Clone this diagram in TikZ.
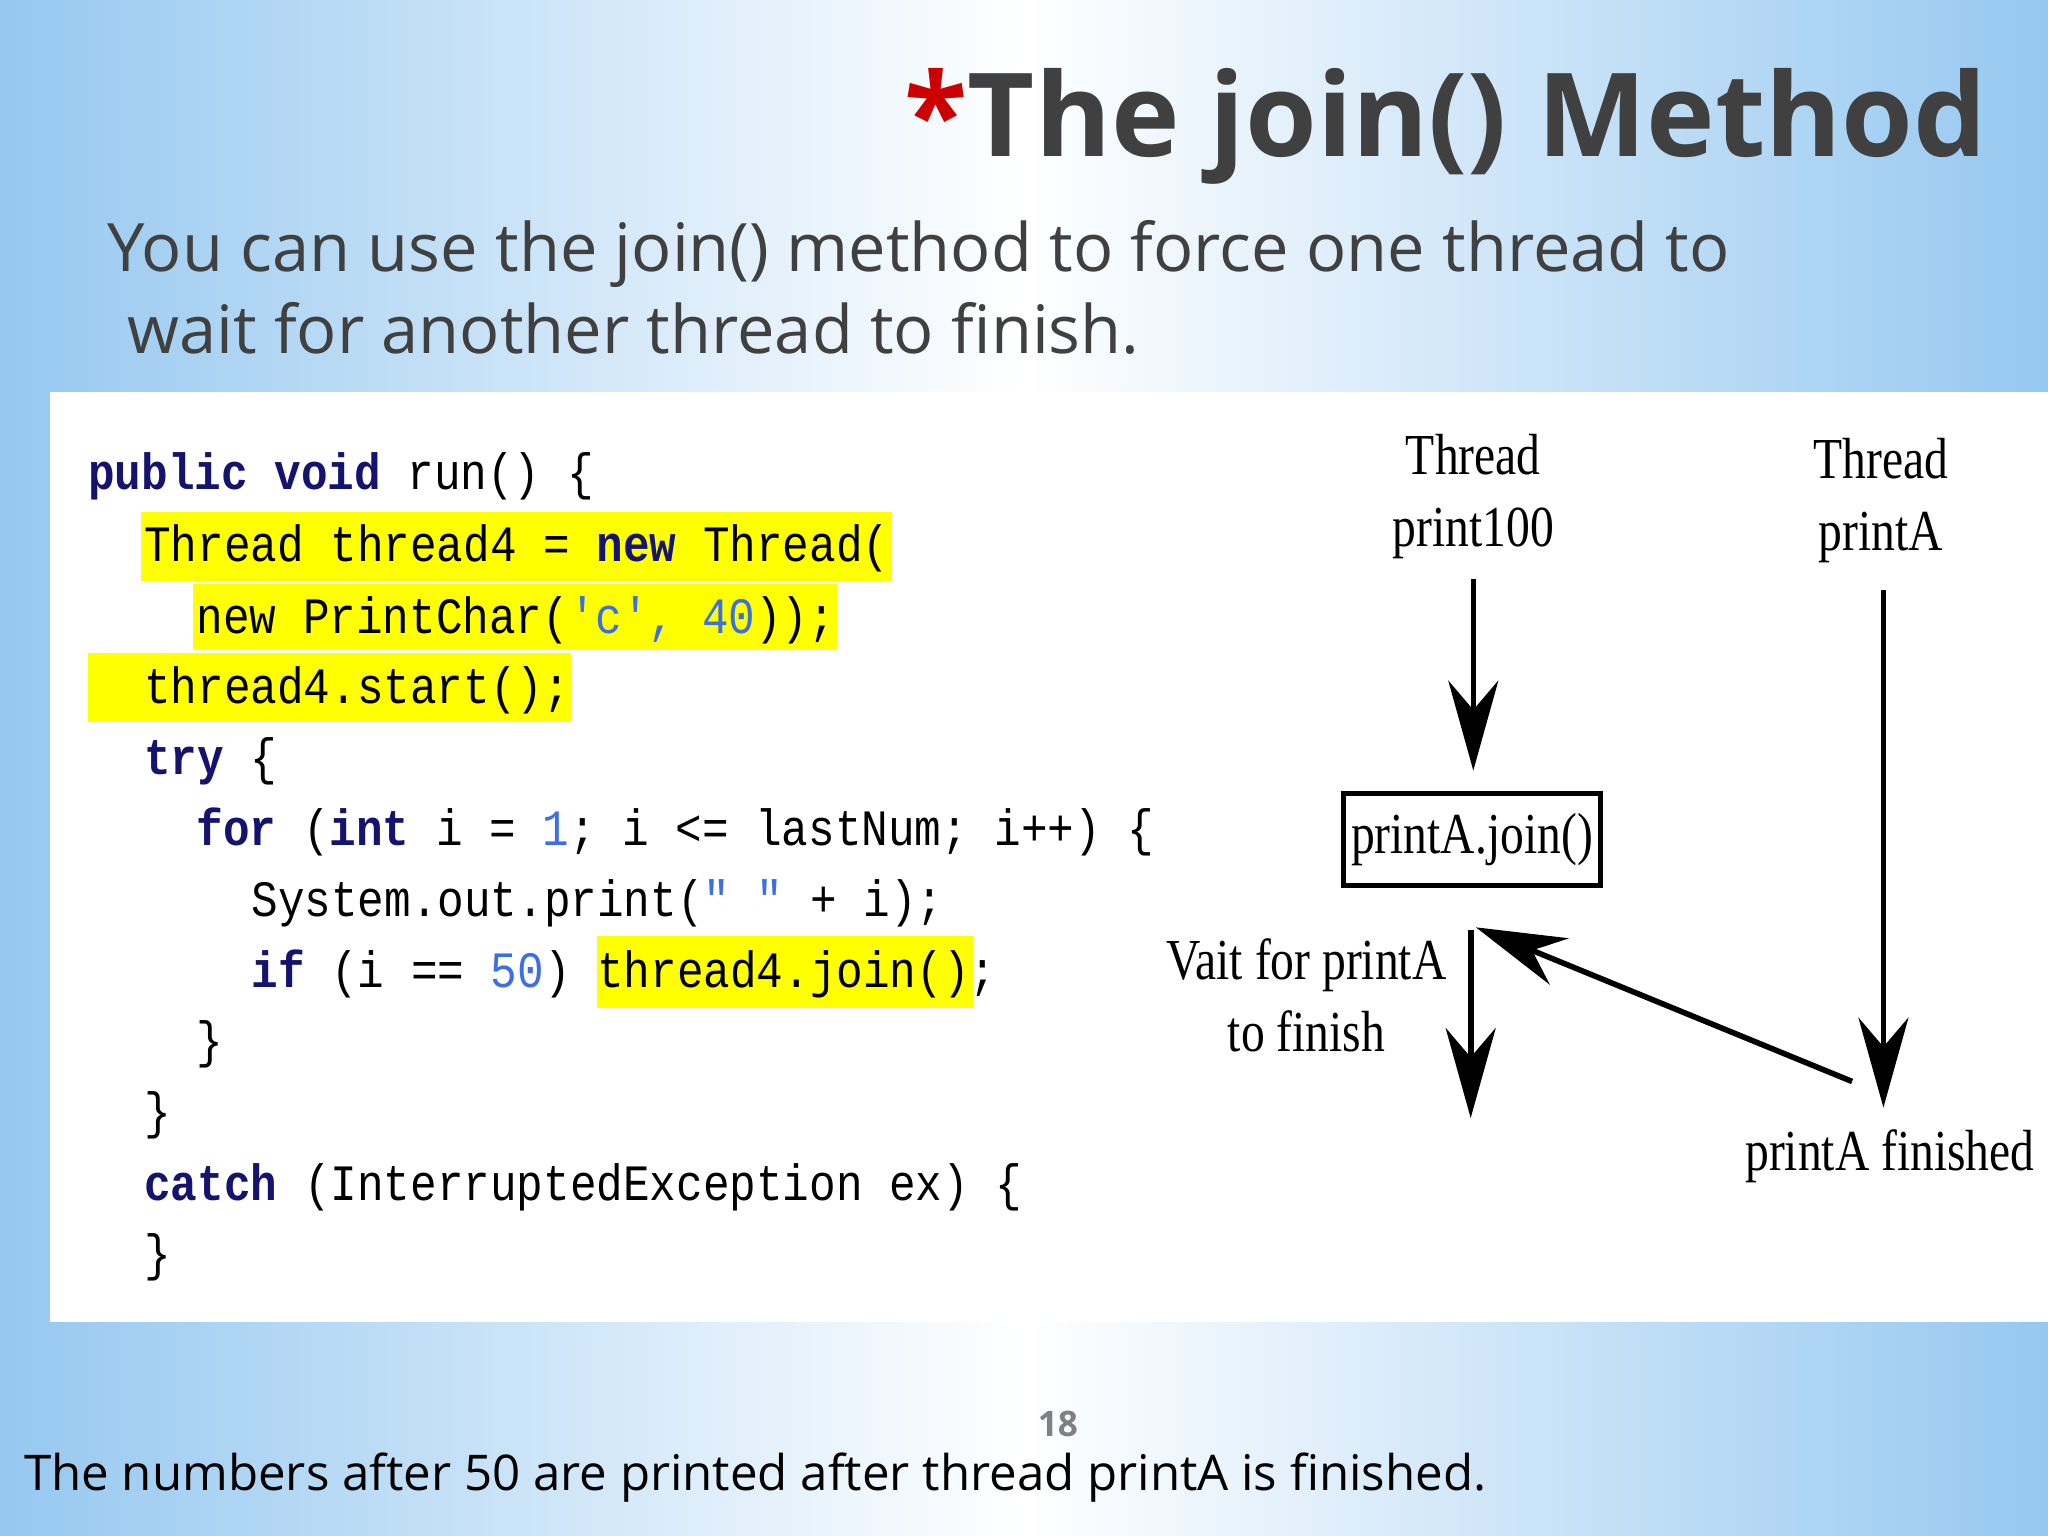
\documentclass[tikz,border=0pt]{standalone}
\usepackage{fontspec}
\setmainfont{Liberation Serif}
\setsansfont{Open Sans}
\newfontfamily\codefont[FakeStretch=0.87]{Liberation Mono}
\newfontfamily\lblfont[FakeStretch=0.82]{Liberation Serif}
\newfontfamily\titlefont{Open Sans}
\usetikzlibrary{arrows.meta}
\definecolor{bgblue}{RGB}{150,200,240}
\definecolor{kw}{RGB}{20,20,110}
\definecolor{num}{RGB}{60,110,230}
\definecolor{hl}{RGB}{255,255,0}
\tikzset{
 code/.style={anchor=base west,inner sep=0pt,font=\codefont\fontsize{14.5}{15}\selectfont},
 hlbox/.style={fill=hl,draw=none},
 lbl/.style={font=\lblfont\fontsize{16.5}{20.5}\selectfont,inner sep=0pt},
 arr/.style={-{Stealth[length=9mm,width=5mm]},line width=1.6pt}
}
\newcommand{\kwd}[1]{\textcolor{kw}{\textbf{#1}}}
\newcommand{\nm}[1]{\textcolor{num}{#1}}
\begin{document}
\begin{tikzpicture}[x=0.01306cm,y=-0.01306cm]
\useasboundingbox (0,0) rectangle (1568,1176);
\shade[left color=bgblue,right color=white] (0,0) rectangle (784,1176);
\shade[left color=white,right color=bgblue] (784,0) rectangle (1568,1176);
% title
\node (title) [anchor=base east,inner sep=0pt,font=\titlefont\bfseries\fontsize{33}{40}\selectfont,text=black!75] at (1522,120) {\textcolor{red!80!black}{*}The join() Method};
\node (sub1) [anchor=base west,inner sep=0pt,font=\sffamily\fontsize{19}{23}\selectfont,text=black!75] at (82,208) {You can use the join() method to force one thread to};
\node (sub2) [anchor=base west,inner sep=0pt,font=\sffamily\fontsize{19}{23}\selectfont,text=black!75] at (97,271) {wait for another thread to finish.};
% panel
\fill[white] (38,300) rectangle (1568,1012);
% highlights
\fill[hlbox] (108,392) rectangle (683,445);
\fill[hlbox] (148,447) rectangle (641,498);
\fill[hlbox] (67,500) rectangle (437,553);
\fill[hlbox] (457,717) rectangle (745,772);
% code
\node (c1) [code] at (67,375) {\kwd{public} \kwd{void} run() \{};
\node (c2) [code] at (110,430) {Thread thread4 = \kwd{new} Thread(};
\node (c3) [code] at (150,485) {new PrintChar(\nm{'c', 40}));};
\node (c4) [code] at (110,539) {thread4.start();};
\node (c5) [code] at (110,593) {\kwd{try} \{};
\node (c6) [code] at (150,647) {\kwd{for} (\kwd{int} i = \nm{1}; i <= lastNum; i++) \{};
\node (c7) [code] at (192,702) {System.out.print(\nm{" "} + i);};
\node (c8) [code] at (192,756) {\kwd{if} (i == \nm{50}) thread4.join();};
\node (c9) [code] at (150,810) {\}};
\node (c10) [code] at (110,864) {\}};
\node (c11) [code] at (110,919) {\kwd{catch} (InterruptedException ex) \{};
\node (c12) [code] at (110,973) {\}};
% diagram
\node (t1) [lbl,align=center] at (1128,380) {Thread\\print100};
\node (t2) [lbl,align=center] at (1440,383) {Thread\\printA};
\node (join) [draw,line width=1.5pt,lbl,minimum height=0.92cm,minimum width=2.57cm] at (1127,643) {printA.join()};
\coordinate (a1) at (1128,443);
\coordinate (a1e) at (1128,590);
\coordinate (w1) at (1126,712);
\coordinate (w2) at (1126,856);
\coordinate (p1) at (1442,452);
\coordinate (p2) at (1442,848);
\coordinate (f1) at (1418,828);
\coordinate (f2) at (1130,710);
\draw[arr] (a1) -- (a1e);
\draw[arr] (w1) -- (w2);
\draw[arr] (p1) -- (p2);
\draw[arr] (f1) -- (f2);
\node (wait) [lbl,align=center,anchor=north east] at (1108,718) {Vait for printA\\to finish};
\node (fin) [lbl] at (1447,885) {printA finished};
% footer
\node (pg) [font=\sffamily\bfseries\fontsize{10}{12}\selectfont,text=black!50] at (810,1090) {18};
\node (note) [anchor=base west,inner sep=0pt,font=\sffamily\fontsize{14}{16}\selectfont] at (18,1141) {The numbers after 50 are printed after thread printA is finished.};
\end{tikzpicture}
\end{document}
